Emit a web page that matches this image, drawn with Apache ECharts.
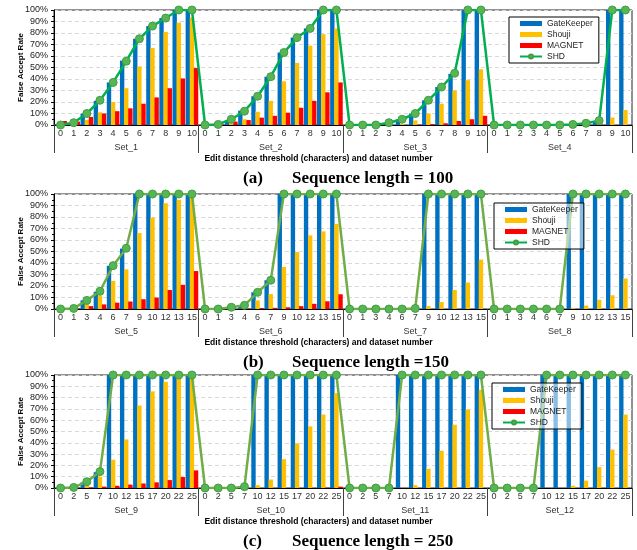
<!DOCTYPE html>
<html>
<head>
<meta charset="utf-8">
<script src="https://cdn.jsdelivr.net/npm/echarts@6/dist/echarts.min.js"></script>
<style>
  html, body { margin: 0; padding: 0; background: #fff; }
  #chart { width: 637px; height: 550px; }
</style>
</head>
<body>
<div id="chart"></div>
<script>
// thresholds per panel, and the set names
const thrA = ['0', '1', '2', '3', '4', '5', '6', '7', '8', '9', '10']
const thrB = ['0', '1', '3', '4', '6', '7', '9', '10', '12', '13', '15']
const thrC = ['0', '2', '5', '7', '10', '12', '15', '17', '20', '22', '25']
const setsA = ['Set_1', 'Set_2', 'Set_3', 'Set_4']
const setsB = ['Set_5', 'Set_6', 'Set_7', 'Set_8']
const setsC = ['Set_9', 'Set_10', 'Set_11', 'Set_12']

// (a) sequence length = 100
const gkA = [
  0.5, 2, 10, 21, 37, 56, 75, 86, 93, 100, 100,
  0, 0.5, 4, 12.5, 25, 42, 63, 76, 84, 100, 100,
  0, 0, 0, 1.5, 5, 10, 21.5, 33, 44.5, 100, 100,
  0, 0, 0, 0, 0, 0, 0.5, 1, 3, 100, 100
]
const shA = [
  0.5, 1, 4.5, 11, 20, 32, 51, 67, 81, 89, 93.5,
  0, 0, 2, 5, 11.5, 21, 38, 54, 69, 79, 84,
  0, 0, 0, 0, 1, 4, 10, 18.5, 30, 39, 48.5,
  0, 0, 0, 0, 0, 0, 0, 0, 0.5, 6.5, 13
]
const mgA = [
  3.5, 3, 7, 10, 12, 14.5, 18.5, 24, 32, 40.5, 49.5,
  0, 0.5, 3, 4.3, 6.4, 8, 10.7, 15, 21, 28.4, 37,
  0, 0, 0, 0, 0, 0.3, 0.8, 1.5, 3.5, 5, 8,
  0, 0, 0, 0, 0, 0, 0, 0, 0, 0, 0
]
const shdA = [
  0, 2, 10, 21.5, 37, 55.5, 75, 86, 93, 100, 100,
  0, 0.5, 5, 12, 25, 42, 63, 76, 84, 100, 100,
  0, 0, 0, 2, 5, 10, 21.5, 33, 45, 100, 100,
  0, 0, 0, 0, 0, 0, 0.5, 1.5, 3.8, 100, 100
]

// (b) sequence length = 150
const gkB = [
  0, 0.5, 7.5, 15, 37.5, 52.5, 100, 100, 100, 100, 100,
  0, 0, 1.5, 3, 14.5, 25, 100, 100, 100, 100, 100,
  0, 0, 0, 0, 0, 0, 100, 100, 100, 100, 100,
  0, 0, 0, 0, 0, 0, 100, 100, 100, 100, 100
]
const shB = [
  0.5, 0.5, 5, 11.5, 24.5, 34.5, 66, 79.5, 92, 95, 99,
  0, 0, 0, 0.5, 7.5, 13, 36.5, 49.5, 64, 67.5, 74,
  0, 0, 0, 0, 0, 0, 2.5, 6, 16.5, 23, 43,
  0, 0, 0, 0, 0, 0, 1, 3, 8, 12, 26.5
]
const mgB = [
  0.3, 0.5, 2.5, 4, 5.5, 6.5, 8.5, 10, 16.5, 21, 33,
  0, 0, 0, 0.5, 0.8, 1, 1.5, 2.5, 4.5, 6.7, 12.8,
  0, 0, 0, 0, 0, 0, 0, 0, 0, 0, 0,
  0, 0, 0, 0, 0, 0, 0, 0, 0, 0, 0
]
const shdB = [
  0, 0.5, 7.5, 15.4, 37.7, 52.8, 100, 100, 100, 100, 100,
  0, 0, 1.5, 3.2, 14.5, 25, 100, 100, 100, 100, 100,
  0, 0, 0, 0, 0, 0.5, 100, 100, 100, 100, 100,
  0, 0, 0, 0, 0, 0, 100, 100, 100, 100, 100
]

// (c) sequence length = 250
const gkC = [
  0, 1, 5, 14, 100, 100, 100, 100, 100, 100, 100,
  0, 0, 0, 0.5, 100, 100, 100, 100, 100, 100, 100,
  0, 0, 0, 0, 100, 100, 100, 100, 100, 100, 100,
  0, 0, 0, 0, 100, 100, 100, 100, 100, 100, 100
]
const shC = [
  0.5, 0.5, 2.5, 10, 25, 43, 73, 85.5, 94, 96.5, 99,
  0, 0, 0, 0, 2.5, 7.5, 25.5, 39.5, 54.5, 65, 84,
  0, 0, 0, 0, 0, 2.5, 17, 33, 56, 69.5, 87,
  0, 0, 0, 0, 0, 0, 2, 6.5, 18.5, 34, 65
]
const mgC = [
  0.3, 0.3, 0.5, 1.2, 2, 3, 4, 5, 7, 9.7, 15.6,
  0, 0, 0, 0, 0, 0, 0, 0, 0, 0.3, 1.2,
  0, 0, 0, 0, 0, 0, 0, 0, 0, 0, 0,
  0, 0, 0, 0, 0, 0, 0, 0, 0, 0, 0
]
const shdC = [
  0, 0.5, 5.6, 14.5, 100, 100, 100, 100, 100, 100, 100,
  0, 0, 0, 1.2, 100, 100, 100, 100, 100, 100, 100,
  0, 0, 0, 0, 100, 100, 100, 100, 100, 100, 100,
  0, 0, 0, 0, 100, 100, 100, 100, 100, 100, 100
]

const chart = echarts.init(document.getElementById('chart'), null, { renderer: 'canvas' })

const FONT = "'Liberation Sans Narrow', 'Liberation Sans', sans-serif"
const SERIF = "'Liberation Serif', 'DejaVu Serif', serif"

const panels = [
  { thr: thrA, sets: setsA, gk: gkA, sh: shA, mg: mgA, shd: shdA, top: 10, height: 115,
    lineColor: '#00B050', legend: { left: 509, top: 17 }, legendBg: '#fff',
    tag: '(a)', caption: 'Sequence length = 100' },
  { thr: thrB, sets: setsB, gk: gkB, sh: shB, mg: mgB, shd: shdB, top: 194, height: 115,
    lineColor: '#70AD47', legend: { left: 494, top: 203 }, legendBg: 'rgba(255,255,255,0.55)',
    tag: '(b)', caption: 'Sequence length =150' },
  { thr: thrC, sets: setsC, gk: gkC, sh: shC, mg: mgC, shd: shdC, top: 375, height: 113,
    lineColor: '#70AD47', legend: { left: 492, top: 383 }, legendBg: 'rgba(255,255,255,0.55)',
    tag: '(c)', caption: 'Sequence length = 250' }
]

const grid = []
const xAxis = []
const yAxis = []
const series = []
const legend = []
const graphic = []

panels.forEach((p, i) => {
  grid.push({ left: 54, right: 5, top: p.top, height: p.height, show: true, borderColor: '#222', borderWidth: 1 })
  const labels = [].concat(...p.sets.map(() => p.thr))
  xAxis.push({ // threshold level
    type: 'category', gridIndex: i, position: 'bottom', data: labels,
    axisLine: { lineStyle: { color: '#000', width: 1 } },
    axisTick: { show: false },
    axisLabel: { interval: 0, margin: 4, fontSize: 9, color: '#333', fontFamily: FONT }
  })
  xAxis.push({ // dataset level
    type: 'category', gridIndex: i, position: 'bottom', offset: 0, data: p.sets,
    axisLine: { show: false },
    axisTick: { show: true, length: 28, lineStyle: { color: '#404040', width: 1 } },
    axisLabel: { interval: 0, margin: 18, fontSize: 9, color: '#333', fontFamily: FONT }
  })
  yAxis.push({
    type: 'value', gridIndex: i, min: 0, max: 100, interval: 10,
    name: 'False Accept Rate', nameLocation: 'middle', nameGap: 29, nameMoveOverlap: false,
    nameTextStyle: { fontSize: 8, fontWeight: 'bold', color: '#000', fontFamily: FONT },
    axisLine: { show: true, lineStyle: { color: '#000' } },
    axisTick: { show: true, length: 3, lineStyle: { color: '#000' } },
    minorTick: { show: true, splitNumber: 2, length: 2, lineStyle: { color: '#000' } },
    axisLabel: { formatter: '{value}%', fontSize: 9, color: '#222', margin: 6, fontFamily: FONT },
    splitLine: { show: true, lineStyle: { color: '#d9d9d9', type: [4, 3] } }
  })
  const xi = i * 2
  const bar = (name, data, color) => ({
    name, type: 'bar', xAxisIndex: xi, yAxisIndex: i, data,
    barCategoryGap: '4%', barGap: '-6%',
    itemStyle: { color }, silent: true
  })
  series.push(bar('GateKeeper', p.gk, '#0070C0'))
  series.push(bar('Shouji', p.sh, '#FFC000'))
  series.push(bar('MAGNET', p.mg, '#FF0000'))
  series.push({
    name: 'SHD', type: 'line', xAxisIndex: xi, yAxisIndex: i, data: p.shd,
    symbol: 'circle', symbolSize: 8, z: 5,
    lineStyle: { color: p.lineColor, width: 2.5 },
    itemStyle: { color: '#58B553', borderColor: '#3E9E46', borderWidth: 1 }
  })
  legend.push({
    left: p.legend.left, top: p.legend.top, orient: 'vertical',
    data: [
      { name: 'GateKeeper', icon: 'rect' },
      { name: 'Shouji', icon: 'rect' },
      { name: 'MAGNET', icon: 'rect' },
      { name: 'SHD' }
    ],
    itemWidth: 22, itemHeight: 5, itemGap: 2,
    padding: [2, 6, 2, 10],
    borderColor: '#000', borderWidth: 1, backgroundColor: p.legendBg,
    textStyle: { fontSize: 8.5, color: '#222', fontFamily: FONT, lineHeight: 9 },
    selectedMode: false, z: 10
  })
  const axisBottom = p.top + p.height
  graphic.push({
    type: 'text', left: 'center', top: axisBottom + 29,
    style: { text: 'Edit distance threshold (characters) and dataset number', fill: '#000', font: 'bold 8.5px ' + FONT }
  })
  graphic.push({
    type: 'text', left: 243, top: axisBottom + 45,
    style: { text: p.tag, fill: '#000', font: 'bold 17px ' + SERIF }
  })
  graphic.push({
    type: 'text', left: 292, top: axisBottom + 45,
    style: { text: p.caption, fill: '#000', font: 'bold 17px ' + SERIF }
  })
})

chart.setOption({
  animation: false,
  grid, xAxis, yAxis, series, legend, graphic
})
</script>
</body>
</html>
